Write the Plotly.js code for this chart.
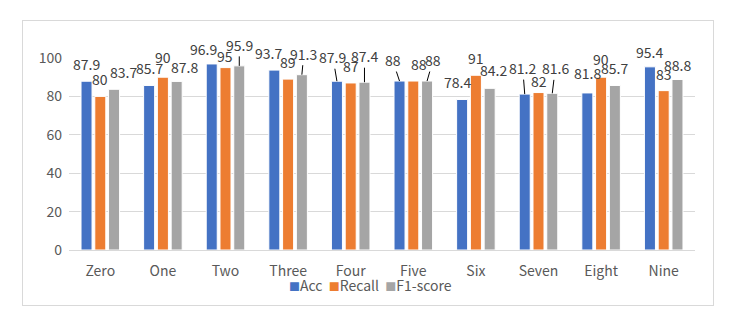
<!DOCTYPE html>
<html>
<head>
<meta charset="utf-8">
<script src="https://cdn.plot.ly/plotly-3.0.1.min.js"></script>
<style>
  body { margin: 0; background: #fff; }
  #frame { position: absolute; left: 22px; top: 20px; width: 690px; height: 284px; border: 1px solid #D9D9D9; }
  #chart { width: 690px; height: 284px; }
</style>
</head>
<body>
<div id="frame"><div id="chart"></div></div>
<script>
var digits = ['Zero', 'One', 'Two', 'Three', 'Four', 'Five', 'Six', 'Seven', 'Eight', 'Nine'];
var acc = [87.9, 85.7, 96.9, 93.7, 87.9, 88, 78.4, 81.2, 81.8, 95.4];
var recall = [80, 90, 95, 89, 87, 88, 91, 82, 90, 83];
var f1 = [83.7, 87.8, 95.9, 91.3, 87.4, 88, 84.2, 81.6, 85.7, 88.8];

// where Excel nudged each data label, in px from its default place [dx, dy, leader line]
var accNudge = [[0, 0], [0, 0], [-8, 2], [-6, 0], [-4, -7, 1], [-7, -4, 1], [-5, 0], [-2, -9, 1], [0, -3], [0, 2]];
var recallNudge = [[0, 0], [0, -3], [-1, 5], [0, 0], [0, 0], [6, 0], [0, 0], [0, 5], [0, -1], [0, 0]];
var f1Nudge = [[9, 0], [8, 3], [0, -4, 1], [2, -4, 1], [0, -9, 1], [6, -4, 1], [4, -1], [3, -8, 1], [0, 0], [0, 2]];

var colors = ['#4472C4', '#ED7D31', '#A5A5A5'];
var fontFamily = '"Noto Sans CJK SC", "Noto Sans", sans-serif';

var W = 690, H = 284;
var margin = {l: 46, r: 18, t: 37, b: 55, autoexpand: false};
var bargap = 0.34;
var plotW = W - margin.l - margin.r;
var pitch = plotW / digits.length * (1 - bargap) / 3;

function series(name, vals, color) {
    return {
        type: 'bar',
        name: name,
        x: digits,
        y: vals,
        marker: {color: color, line: {color: '#ffffff', width: 1}},
        hoverinfo: 'none'
    };
}

var annotations = [];
[[acc, accNudge], [recall, recallNudge], [f1, f1Nudge]].forEach(function(s, k) {
    s[0].forEach(function(v, i) {
        var n = s[1][i];
        annotations.push({
            x: digits[i], y: v, xref: 'x', yref: 'y',
            xshift: (k - 1) * pitch,
            text: String(v),
            showarrow: true,
            arrowhead: 0,
            arrowwidth: 1,
            standoff: 0,
            arrowcolor: n[2] ? '#000000' : 'rgba(0,0,0,0)',
            ax: n[0], ay: -17 + n[1],
            font: {family: fontFamily, size: 14, color: '#404040'}
        });
    });
});

// legend drawn as one line of text, like the Excel one
annotations.push({
    xref: 'paper', yref: 'paper', x: 0.482, y: -0.183,
    xanchor: 'center', yanchor: 'middle', showarrow: false,
    text: '<span style="color:' + colors[0] + ';font-size:11px">■</span>Acc  ' +
          '<span style="color:' + colors[1] + ';font-size:11px">■</span>Recall  ' +
          '<span style="color:' + colors[2] + ';font-size:11px">■</span>F1-score',
    font: {family: fontFamily, size: 14, color: '#595959'}
});

var layout = {
    width: W,
    height: H,
    margin: margin,
    barmode: 'group',
    bargap: bargap,
    bargroupgap: 0.2,
    showlegend: false,
    paper_bgcolor: '#ffffff',
    plot_bgcolor: '#ffffff',
    font: {family: fontFamily, size: 14, color: '#595959'},
    xaxis: {
        showgrid: false,
        showline: true,
        linecolor: '#D9D9D9',
        linewidth: 1,
        ticks: '',
        ticklabelstandoff: 8,
        tickfont: {size: 14, color: '#595959'}
    },
    yaxis: {
        range: [0, 100],
        tickvals: [0, 20, 40, 60, 80, 100],
        gridcolor: '#D9D9D9',
        zeroline: false,
        showline: false,
        ticks: '',
        ticklabelstandoff: 6,
        tickfont: {size: 14, color: '#595959'}
    },
    annotations: annotations
};

Plotly.newPlot('chart', [
    series('Acc', acc, colors[0]),
    series('Recall', recall, colors[1]),
    series('F1-score', f1, colors[2])
], layout, {displayModeBar: false, staticPlot: true});
</script>
</body>
</html>
